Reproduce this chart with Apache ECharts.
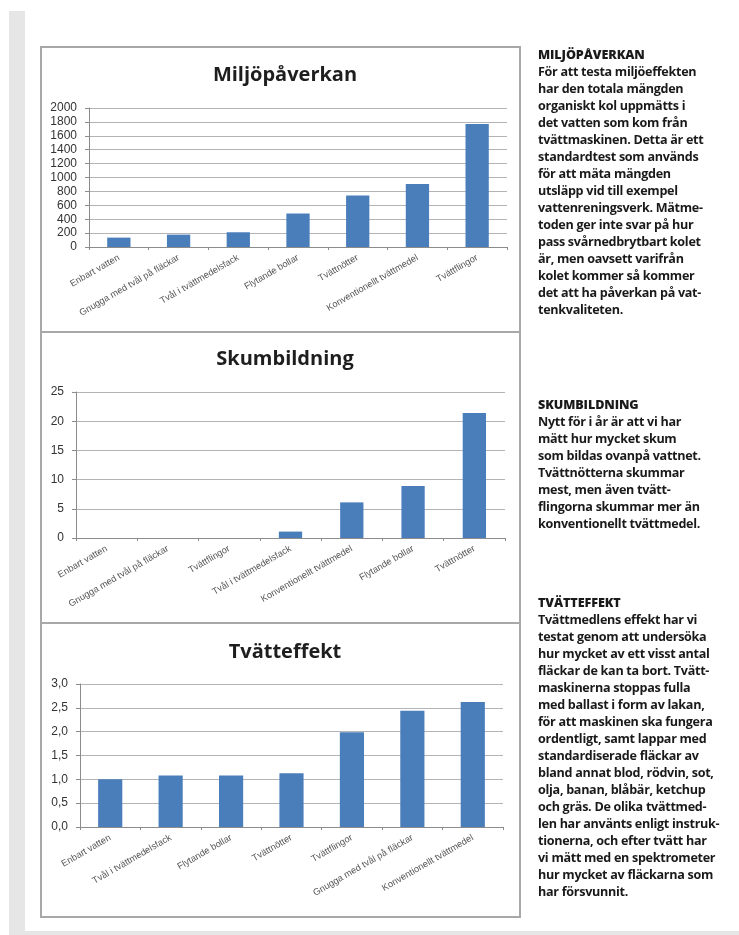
<!DOCTYPE html>
<html>
<head>
<meta charset="utf-8">
<script src="https://cdn.jsdelivr.net/npm/echarts@6/dist/echarts.min.js"></script>
<style>
  html, body { margin: 0; padding: 0; background: #fff; }
  #wrap { position: relative; width: 739px; height: 935px; overflow: hidden; background: #fff; }
  #chart { position: absolute; left: 0; top: 0; width: 739px; height: 935px; }
  .strip { position: absolute; background: #e6e6e6; }
  .side { position: absolute; left: 538px; font-family: "Open Sans", sans-serif; font-weight: 700;
          font-size: 12.6px; line-height: 17px; color: #1a1a1a; white-space: nowrap; letter-spacing: -0.3px; }
  .side b { font-weight: 800; letter-spacing: -0.1px; }
</style>
</head>
<body>
<div id="wrap">
  <div class="strip" style="left:9px;top:11px;width:16px;height:924px;"></div>
  <div class="strip" style="left:9px;top:931px;width:730px;height:4px;"></div>
  <div id="chart"></div>
  <div class="side" style="top:46px;"><b>MILJÖPÅVERKAN</b><br>För att testa miljöeffekten<br>har den totala mängden<br>organiskt kol uppmätts i<br>det vatten som kom från<br>tvättmaskinen. Detta är ett<br>standardtest som används<br>för att mäta mängden<br>utsläpp vid till exempel<br>vattenreningsverk. Mätme-<br>toden ger inte svar på hur<br>pass svårnedbrytbart kolet<br>är, men oavsett varifrån<br>kolet kommer så kommer<br>det att ha påverkan på vat-<br>tenkvaliteten.</div>
  <div class="side" style="top:396px;"><b>SKUMBILDNING</b><br>Nytt för i år är att vi har<br>mätt hur mycket skum<br>som bildas ovanpå vattnet.<br>Tvättnötterna skummar<br>mest, men även tvätt-<br>flingorna skummar mer än<br>konventionellt tvättmedel.</div>
  <div class="side" style="top:594px;"><b>TVÄTTEFFEKT</b><br>Tvättmedlens effekt har vi<br>testat genom att undersöka<br>hur mycket av ett visst antal<br>fläckar de kan ta bort. Tvätt-<br>maskinerna stoppas fulla<br>med ballast i form av lakan,<br>för att maskinen ska fungera<br>ordentligt, samt lappar med<br>standardiserade fläckar av<br>bland annat blod, rödvin, sot,<br>olja, banan, blåbär, ketchup<br>och gräs. De olika tvättmed-<br>len har använts enligt instruk-<br>tionerna, och efter tvätt har<br>vi mätt med en spektrometer<br>hur mycket av fläckarna som<br>har försvunnit.</div>
</div>
<script>
const titles = ["Miljöpåverkan", "Skumbildning", "Tvätteffekt"];

const cats1 = ["Enbart vatten", "Gnugga med tvål på fläckar", "Tvål i tvättmedelsfack", "Flytande bollar", "Tvättnötter", "Konventionellt tvättmedel", "Tvättflingor"];
const vals1 = [135, 178, 212, 482, 742, 906, 1769];

const cats2 = ["Enbart vatten", "Gnugga med tvål på fläckar", "Tvättflingor", "Tvål i tvättmedelsfack", "Konventionellt tvättmedel", "Flytande bollar", "Tvättnötter"];
const vals2 = [0, 0, 0, 1.1, 6.1, 8.9, 21.4];

const cats3 = ["Enbart vatten", "Tvål i tvättmedelsfack", "Flytande bollar", "Tvättnötter", "Tvättflingor", "Gnugga med tvål på fläckar", "Konventionellt tvättmedel"];
const vals3 = [1.0, 1.08, 1.08, 1.13, 1.99, 2.44, 2.62];

const yTicks1 = { min: 0, max: 2000, interval: 200 };
const yTicks2 = { min: 0, max: 25, interval: 5 };
const yTicks3 = { min: 0, max: 3, interval: 0.5 };

const BAR = '#4a7ebb';
const GRID = '#b4b4b4';
const AXIS = '#8c8c8c';

const chart = echarts.init(document.getElementById('chart'), null, { renderer: 'canvas' });

function xAx(i, cats) {
  return {
    type: 'category', gridIndex: i, data: cats,
    axisLine: { lineStyle: { color: AXIS, width: 1 } },
    axisTick: { show: true, length: 3, lineStyle: { color: AXIS } },
    axisLabel: { rotate: 30, fontSize: 9.3, color: '#555', margin: 10, interval: 0,
                 fontFamily: 'Liberation Sans, Arial, sans-serif' }
  };
}
function yAx(i, t, fmt) {
  return {
    type: 'value', gridIndex: i, min: t.min, max: t.max, interval: t.interval,
    axisLine: { show: true, lineStyle: { color: AXIS, width: 1 } },
    axisTick: { show: true, length: 4, lineStyle: { color: AXIS } },
    splitLine: { show: true, lineStyle: { color: GRID, width: 1 } },
    axisLabel: { fontSize: 12, color: '#333', margin: 12, formatter: fmt,
                 fontFamily: 'Liberation Sans, Arial, sans-serif' }
  };
}
const titleStyle = { fontFamily: 'Open Sans, sans-serif', fontWeight: 700, fontSize: 20, color: '#1e1e1e' };

chart.setOption({
  animation: false,
  title: [
    { text: titles[0], left: 280, top: 60, textAlign: 'center', textStyle: titleStyle },
    { text: titles[1], left: 280, top: 344, textAlign: 'center', textStyle: titleStyle },
    { text: titles[2], left: 280, top: 637, textAlign: 'center', textStyle: titleStyle }
  ],
  grid: [
    { left: 89, top: 108, width: 418, height: 139 },
    { left: 76, top: 392, width: 429, height: 146 },
    { left: 80, top: 684, width: 423, height: 143 }
  ],
  xAxis: [xAx(0, cats1), xAx(1, cats2), xAx(2, cats3)],
  yAxis: [
    yAx(0, yTicks1, v => String(v)),
    yAx(1, yTicks2, v => String(v)),
    yAx(2, yTicks3, v => v.toFixed(1).replace('.', ','))
  ],
  series: [
    { type: 'bar', xAxisIndex: 0, yAxisIndex: 0, data: vals1, barWidth: '39%', itemStyle: { color: BAR } },
    { type: 'bar', xAxisIndex: 1, yAxisIndex: 1, data: vals2, barWidth: '38%', itemStyle: { color: BAR } },
    { type: 'bar', xAxisIndex: 2, yAxisIndex: 2, data: vals3, barWidth: '40%', itemStyle: { color: BAR } }
  ],
  graphic: [
    { type: 'rect', shape: { x: 41, y: 47, width: 479, height: 285 }, style: { fill: null, stroke: '#a8a8a8', lineWidth: 2 }, z: 100 },
    { type: 'rect', shape: { x: 41, y: 332, width: 479, height: 291 }, style: { fill: null, stroke: '#a8a8a8', lineWidth: 2 }, z: 100 },
    { type: 'rect', shape: { x: 41, y: 623, width: 479, height: 294 }, style: { fill: null, stroke: '#a8a8a8', lineWidth: 2 }, z: 100 }
  ]
});
</script>
</body>
</html>
